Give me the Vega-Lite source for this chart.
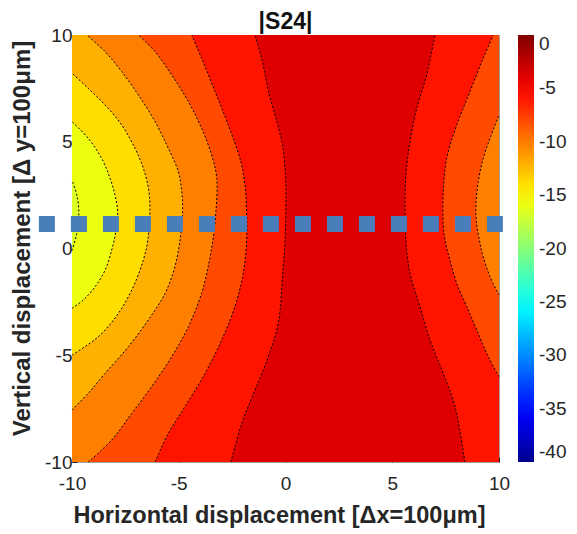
{
  "$schema": "https://vega.github.io/schema/vega-lite/v6.json",
  "width": 427,
  "height": 427,
  "autosize": {"type": "none"},
  "padding": {"left": 72, "top": 35, "right": 78, "bottom": 72},
  "config": {
    "font": "Liberation Sans",
    "view": {"stroke": "#a0a0a0", "strokeWidth": 1},
    "axis": {"grid": false, "domain": false, "labelFlush": false, "labelFontSize": 19, "labelColor": "#262626", "titleColor": "#262626", "titleFontWeight": "bold", "tickColor": "#262626", "tickSize": -5, "tickWidth": 1, "labelExpr": "replace(datum.label, '−', '-')"}
  },
  "title": {"text": "|S24|", "fontSize": 23, "fontWeight": "bold", "color": "#111111", "offset": 4, "dy": 12},
  "datasets": {
    "bands": [
      {"b":"C","x0":-10,"y":-10,"x":10},
      {"b":"C","x0":-10,"y":10,"x":10},

      {"b":"L6","x0":-10,"y":-10,"x":-2.56},
      {"b":"L6","x0":-10,"y":-8.19,"x":-2.05},
      {"b":"L6","x0":-10,"y":-6.63,"x":-1.43},
      {"b":"L6","x0":-10,"y":-5.07,"x":-0.81},
      {"b":"L6","x0":-10,"y":-3.5,"x":-0.34},
      {"b":"L6","x0":-10,"y":-1.16,"x":-0.13},
      {"b":"L6","x0":-10,"y":0.4,"x":-0.02},
      {"b":"L6","x0":-10,"y":2.43,"x":0.02},
      {"b":"L6","x0":-10,"y":3.44,"x":0.0},
      {"b":"L6","x0":-10,"y":4.77,"x":-0.13},
      {"b":"L6","x0":-10,"y":5.78,"x":-0.36},
      {"b":"L6","x0":-10,"y":7.2,"x":-0.76},
      {"b":"L6","x0":-10,"y":8.91,"x":-1.12},
      {"b":"L6","x0":-10,"y":10,"x":-1.43},

      {"b":"L5","x0":-10,"y":-10,"x":-6.11},
      {"b":"L5","x0":-10,"y":-8.66,"x":-5.49},
      {"b":"L5","x0":-10,"y":-7.41,"x":-4.71},
      {"b":"L5","x0":-10,"y":-5.85,"x":-3.77},
      {"b":"L5","x0":-10,"y":-4.29,"x":-2.99},
      {"b":"L5","x0":-10,"y":-2.72,"x":-2.37},
      {"b":"L5","x0":-10,"y":-1.16,"x":-1.98},
      {"b":"L5","x0":-10,"y":0.4,"x":-1.82},
      {"b":"L5","x0":-10,"y":1.72,"x":-1.82},
      {"b":"L5","x0":-10,"y":2.97,"x":-1.9},
      {"b":"L5","x0":-10,"y":4.1,"x":-2.1},
      {"b":"L5","x0":-10,"y":5.78,"x":-2.68},
      {"b":"L5","x0":-10,"y":7.35,"x":-3.3},
      {"b":"L5","x0":-10,"y":8.91,"x":-3.93},
      {"b":"L5","x0":-10,"y":10,"x":-4.39},

      {"b":"L4","x0":-10,"y":-10,"x":-9.24},
      {"b":"L4","x0":-10,"y":-8.97,"x":-8.14},
      {"b":"L4","x0":-10,"y":-7.72,"x":-7.2},
      {"b":"L4","x0":-10,"y":-6.47,"x":-6.27},
      {"b":"L4","x0":-10,"y":-5.07,"x":-5.33},
      {"b":"L4","x0":-10,"y":-3.66,"x":-4.55},
      {"b":"L4","x0":-10,"y":-2.1,"x":-3.93},
      {"b":"L4","x0":-10,"y":-0.85,"x":-3.62},
      {"b":"L4","x0":-10,"y":0.4,"x":-3.4},
      {"b":"L4","x0":-10,"y":1.72,"x":-3.26},
      {"b":"L4","x0":-10,"y":3.29,"x":-3.22},
      {"b":"L4","x0":-10,"y":4.38,"x":-3.46},
      {"b":"L4","x0":-10,"y":5.63,"x":-3.93},
      {"b":"L4","x0":-10,"y":6.88,"x":-4.55},
      {"b":"L4","x0":-10,"y":8.13,"x":-5.33},
      {"b":"L4","x0":-10,"y":9.22,"x":-6.11},
      {"b":"L4","x0":-10,"y":10,"x":-6.89},

      {"b":"L3","x0":-10,"y":-7.56,"x":-10},
      {"b":"L3","x0":-10,"y":-6.78,"x":-9.24},
      {"b":"L3","x0":-10,"y":-5.85,"x":-8.45},
      {"b":"L3","x0":-10,"y":-4.6,"x":-7.36},
      {"b":"L3","x0":-10,"y":-3.35,"x":-6.43},
      {"b":"L3","x0":-10,"y":-2.1,"x":-5.64},
      {"b":"L3","x0":-10,"y":-0.85,"x":-5.18},
      {"b":"L3","x0":-10,"y":0.4,"x":-4.94},
      {"b":"L3","x0":-10,"y":1.72,"x":-4.82},
      {"b":"L3","x0":-10,"y":2.66,"x":-4.86},
      {"b":"L3","x0":-10,"y":3.6,"x":-5.02},
      {"b":"L3","x0":-10,"y":4.69,"x":-5.49},
      {"b":"L3","x0":-10,"y":5.94,"x":-6.11},
      {"b":"L3","x0":-10,"y":7.19,"x":-6.89},
      {"b":"L3","x0":-10,"y":8.28,"x":-7.67},
      {"b":"L3","x0":-10,"y":9.22,"x":-8.45},
      {"b":"L3","x0":-10,"y":10,"x":-9.31},

      {"b":"L2","x0":-10,"y":-4.99,"x":-10},
      {"b":"L2","x0":-10,"y":-4.13,"x":-8.77},
      {"b":"L2","x0":-10,"y":-3.04,"x":-7.83},
      {"b":"L2","x0":-10,"y":-1.79,"x":-7.13},
      {"b":"L2","x0":-10,"y":-0.54,"x":-6.66},
      {"b":"L2","x0":-10,"y":0.4,"x":-6.45},
      {"b":"L2","x0":-10,"y":1.88,"x":-6.35},
      {"b":"L2","x0":-10,"y":2.82,"x":-6.42},
      {"b":"L2","x0":-10,"y":3.76,"x":-6.66},
      {"b":"L2","x0":-10,"y":4.69,"x":-7.05},
      {"b":"L2","x0":-10,"y":5.78,"x":-7.67},
      {"b":"L2","x0":-10,"y":6.72,"x":-8.45},
      {"b":"L2","x0":-10,"y":7.5,"x":-9.24},
      {"b":"L2","x0":-10,"y":8.21,"x":-10},

      {"b":"L1","x0":-10,"y":-2.8,"x":-10},
      {"b":"L1","x0":-10,"y":-2.41,"x":-9.47},
      {"b":"L1","x0":-10,"y":-1.79,"x":-8.92},
      {"b":"L1","x0":-10,"y":-1.01,"x":-8.45},
      {"b":"L1","x0":-10,"y":-0.07,"x":-8.14},
      {"b":"L1","x0":-10,"y":0.79,"x":-7.95},
      {"b":"L1","x0":-10,"y":1.72,"x":-7.86},
      {"b":"L1","x0":-10,"y":2.51,"x":-7.99},
      {"b":"L1","x0":-10,"y":3.29,"x":-8.22},
      {"b":"L1","x0":-10,"y":4.22,"x":-8.61},
      {"b":"L1","x0":-10,"y":5.16,"x":-9.24},
      {"b":"L1","x0":-10,"y":5.94,"x":-10},

      {"b":"L0","x0":-10,"y":-0.1,"x":-10},
      {"b":"L0","x0":-10,"y":0.6,"x":-9.8},
      {"b":"L0","x0":-10,"y":1.5,"x":-9.68},
      {"b":"L0","x0":-10,"y":2.4,"x":-9.75},
      {"b":"L0","x0":-10,"y":3.2,"x":-10},

      {"b":"R1","x0":10,"y":-10,"x":8.4},
      {"b":"R1","x0":10,"y":-7.41,"x":7.94},
      {"b":"R1","x0":10,"y":-5.85,"x":7.39},
      {"b":"R1","x0":10,"y":-4.29,"x":6.77},
      {"b":"R1","x0":10,"y":-2.72,"x":6.3},
      {"b":"R1","x0":10,"y":-1.16,"x":5.83},
      {"b":"R1","x0":10,"y":0.4,"x":5.64},
      {"b":"R1","x0":10,"y":1.88,"x":5.6},
      {"b":"R1","x0":10,"y":3.44,"x":5.64},
      {"b":"R1","x0":10,"y":5.0,"x":5.83},
      {"b":"R1","x0":10,"y":6.57,"x":6.15},
      {"b":"R1","x0":10,"y":8.13,"x":6.61},
      {"b":"R1","x0":10,"y":10,"x":7.0},

      {"b":"R2","x0":10,"y":-6.0,"x":10},
      {"b":"R2","x0":10,"y":-5.07,"x":9.5},
      {"b":"R2","x0":10,"y":-3.82,"x":8.96},
      {"b":"R2","x0":10,"y":-2.72,"x":8.49},
      {"b":"R2","x0":10,"y":-1.63,"x":8.02},
      {"b":"R2","x0":10,"y":-0.54,"x":7.7},
      {"b":"R2","x0":10,"y":0.4,"x":7.47},
      {"b":"R2","x0":10,"y":1.1,"x":7.39},
      {"b":"R2","x0":10,"y":2.66,"x":7.39},
      {"b":"R2","x0":10,"y":4.22,"x":7.55},
      {"b":"R2","x0":10,"y":5.78,"x":8.02},
      {"b":"R2","x0":10,"y":7.35,"x":8.64},
      {"b":"R2","x0":10,"y":8.91,"x":9.26},
      {"b":"R2","x0":10,"y":10,"x":9.73},

      {"b":"R3","x0":10,"y":-2.18,"x":10},
      {"b":"R3","x0":10,"y":-1.32,"x":9.58},
      {"b":"R3","x0":10,"y":-0.38,"x":9.26},
      {"b":"R3","x0":10,"y":0.4,"x":9.08},
      {"b":"R3","x0":10,"y":1.3,"x":8.94},
      {"b":"R3","x0":10,"y":2.04,"x":8.92},
      {"b":"R3","x0":10,"y":3.13,"x":9.03},
      {"b":"R3","x0":10,"y":4.22,"x":9.26},
      {"b":"R3","x0":10,"y":5.16,"x":9.58},
      {"b":"R3","x0":10,"y":6.25,"x":10}
    ]
  },
  "layer": [
    {
      "data": {"name": "bands"},
      "mark": {"type": "area", "orient": "horizontal", "interpolate": "catmull-rom"},
      "encoding": {
        "y": {"field": "y", "type": "quantitative", "scale": {"domain": [-10, 10], "nice": false},
              "axis": {"values": [-10, -5, 0, 5, 10], "title": "Vertical displacement [Δ y=100μm]", "titleFontSize": 24, "labelPadding": 5, "titlePadding": 10, "titleY": 203}},
        "x": {"field": "x", "type": "quantitative", "stack": null, "scale": {"domain": [-10, 10], "nice": false},
              "axis": {"values": [-10, -5, 0, 5, 10], "title": "Horizontal displacement [Δx=100μm]", "titleFontSize": 23.5, "labelPadding": 17, "titlePadding": 10, "titleX": 207}},
        "x2": {"field": "x0"},
        "fill": {"field": "b", "type": "nominal", "legend": null,
                 "scale": {"domain": ["C","L6","L5","L4","L3","L2","L1","L0","R1","R2","R3"],
                           "range": ["#de0000","#ff1400","#ff4a00","#ff8000","#ffb000","#ffdd00","#ecff10","#dcff26","#ff1400","#ff4a00","#ff8000"]}}
      }
    },
    {
      "data": {"name": "bands"},
      "transform": [{"filter": "datum.b !== 'C'"}],
      "mark": {"type": "line", "interpolate": "catmull-rom", "color": "#000000", "strokeWidth": 1, "strokeDash": [2, 2], "opacity": 1},
      "encoding": {
        "x": {"field": "x", "type": "quantitative"},
        "y": {"field": "y", "type": "quantitative"},
        "detail": {"field": "b"},
        "order": {"field": "y", "type": "quantitative"}
      }
    },
    {
      "data": {"values": [{"xa": -11.55, "xb": 11.08, "yv": 1.15}]},
      "mark": {"type": "rule", "color": "#4a7ebb", "strokeWidth": 16, "strokeDash": [16, 16], "strokeCap": "butt"},
      "encoding": {
        "x": {"field": "xa", "type": "quantitative"},
        "x2": {"field": "xb"},
        "y": {"field": "yv", "type": "quantitative"}
      }
    },
    {
      "data": {"values": [{"v": -40}, {"v": 0}]},
      "mark": {"type": "point", "opacity": 0},
      "encoding": {
        "color": {"field": "v", "type": "quantitative",
                  "scale": {"domain": [-40, -35.5, -25.4, -15.2, -5.1, 0], "range": ["#00008f", "#0000ff", "#00ffff", "#ffff00", "#ff0000", "#800000"], "interpolate": "rgb"},
                  "legend": {"orient": "none", "legendX": 446, "legendY": 0, "padding": 0, "title": null,
                             "gradientLength": 427, "gradientThickness": 16, "gradientStrokeWidth": 0,
                             "values": [0, -5, -10, -15, -20, -25, -30, -35, -40],
                             "labelExpr": "replace(datum.label, '−', '-')",
                             "labelFontSize": 19, "labelColor": "#262626", "labelOffset": 5, "labelOverlap": false}}
      }
    }
  ]
}
